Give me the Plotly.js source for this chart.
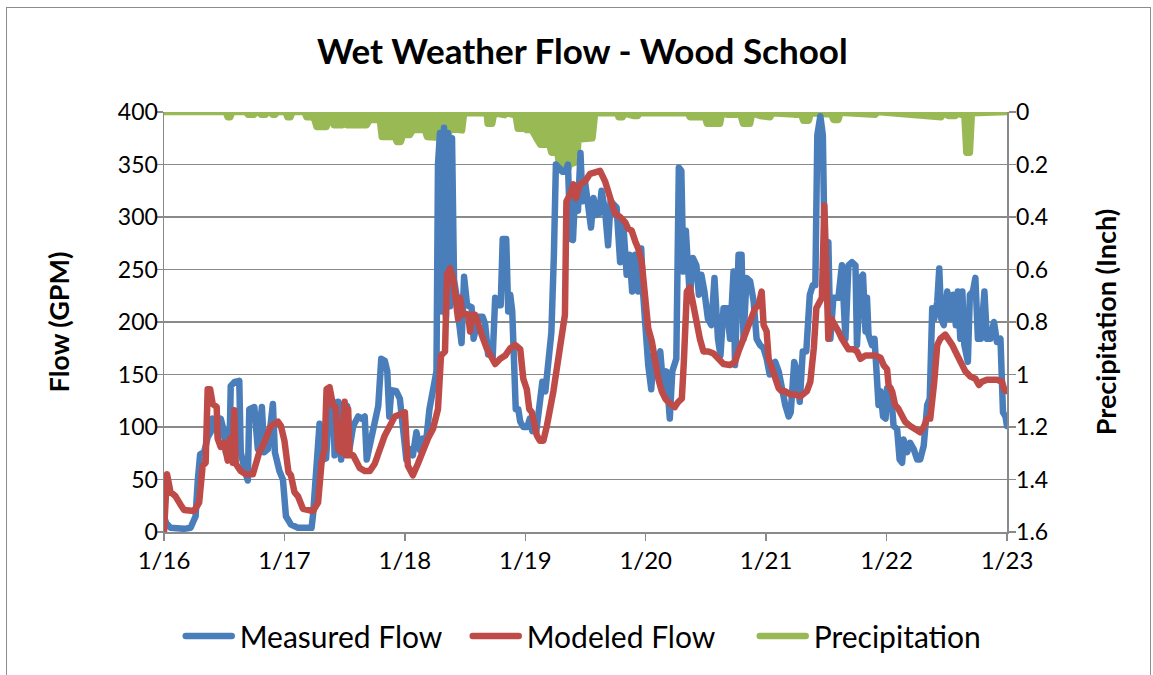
<!DOCTYPE html>
<html><head><meta charset="utf-8">
<script src="https://cdn.plot.ly/plotly-3.0.1.min.js"></script>
<style>
html,body{margin:0;padding:0;background:#fff;}
#chart{position:absolute;left:0;top:0;width:1153px;height:675px;}
#frame{position:absolute;left:6px;top:7px;width:1143px;height:700px;border:1.5px solid #8c8c8c;pointer-events:none;z-index:10;}
path.js-line{stroke-linejoin:round !important;stroke-linecap:round !important;}
.legendlines path{stroke-linecap:round !important;}
</style></head>
<body><div id="chart"></div><div id="frame"></div>
<script>
// Time axis in hours after 1/16 00:00
const tickHours = [0,24,48,72,96,120,144,168];
const tickLabels = ["1/16","1/17","1/18","1/19","1/20","1/21","1/22","1/23"];

const measuredHours = [0,0.5,1.3,2.5,4,5.3,5.7,6.3,6.7,7.2,8,8.7,9.3,9.7,10.3,10.8,11.3,12,12.3,13,13.3,14.1,15,15.3,15.9,16.7,17,18,18.7,19.5,20,20.7,21.7,22.1,23,23.7,24.3,25.3,26.7,
27.5,29.4,29.7,30.4,31,31.6,32.3,33,33.7,34,34.7,35.3,35.8,36.5,37,37.7,38.7,39.3,40,40.4,41,42,42.7,43.3,44,44.5,44.9,45.3,46.3,47,47.6,48.3,49,49.6,50.3,51,51.6,52.3,52.9,53.6,54.3,54.6,55,
55.4,55.8,56.2,56.6,57,57.4,57.8,58.3,58.8,59.3,59.8,60.4,61.3,61.7,62.3,62.8,63.5,64,64.6,65.1,65.5,66,66.6,67.1,67.5,68.2,68.6,69,69.4,69.7,70.1,70.6,71,71.6,72.4,72.9,73.4,74.2,74.8,75.4,76,76.6,77.2,77.7,78.1,78.7,79.4,80,80.5,81,81.5,82,82.5,83,83.4,83.9,84.6,85.1,85.6,86.2,86.7,87.2,87.9,88.5,89,89.6,90.2,90.9,91.5,92.2,92.8,93.3,93.9,94.5,95.1,95.5,95.9,96.5,97.1,97.6,98.3,98.9,99.5,100.1,100.8,101.3,102.1,102.6,103.1,103.5,104,104.8,105.4,106.1,106.6,107.1,107.7,108.4,109.1,109.7,110.4,110.9,
111.5,112.2,112.8,113.5,113.8,114.5,115.1,115.5,116.1,116.8,117.5,118.1,118.8,119.5,120.1,120.7,121.1,121.8,122.5,123.1,123.8,124.5,124.9,125.6,126.1,126.7,127.3,128,128.7,129.3,129.8,130.2,130.8,131.3,131.8,132.4,132.8,133.4,134.4,135.1,135.8,136.4,137.1,137.8,138.1,138.8,
139.3,139.8,140.1,140.4,141.1,141.6,142,142.4,142.8,143.3,143.8,144.1,144.8,145.4,146.1,146.6,147.1,147.4,148.1,148.7,149.4,150.1,150.7,151.4,152.1,152.6,153.1,153.5,154.1,154.5,154.9,155.4,156.1,156.7,157.3,157.8,158.2,158.7,159.1,159.5,160.2,160.6,161.2,161.7,162.2,162.8,163.5,164,164.7,165.4,166,166.7,167.2,167.7,168];
const measuredGPM = [14,8,4,3,3,4,9,15,47,74,76,90,95,108,106,90,108,95,76,69,139,143,144,76,63,49,117,119,79,119,76,79,122,76,58,50,15,7,4,
4,4,16,70,103,69,70,124,124,73,124,69,122,120,80,101,110,108,110,69,82,101,120,165,163,153,110,135,134,127,101,69,79,73,95,78,89,89,117,136,153,350,380,
210,385,205,380,215,375,240,225,200,180,243,216,214,184,197,205,205,198,169,178,166,223,216,216,279,279,210,226,210,178,117,117,105,100,100,108,96,96,120,143,134,172,190,264,350,347,343,343,350,279,278,329,306,361,315,334,299,290,318,302,303,325,306,273,315,312,309,257,296,245,264,229,264,229,270,226,188,159,136,169,162,172,137,153,108,153,165,347,344,248,287,223,261,254,226,245,229,203,197,242,184,168,
213,213,184,248,159,264,264,184,242,239,220,184,178,175,165,150,159,162,153,134,121,110,114,162,153,124,172,172,226,235,235,378,396,378,223,276,184,223,223,254,184,254,257,254,178,242,
245,191,223,188,178,184,143,121,134,110,108,137,137,101,98,69,66,88,76,85,79,69,69,82,121,127,213,203,219,251,203,197,229,203,226,197,229,184,229,178,162,226,229,242,184,184,229,184,184,200,181,184,114,110,101];

const modeledHours = [0,0.6,1.3,2.3,3.3,4,6,7,7.7,8.3,8.7,9.2,9.7,10.5,10.7,11.3,12,12.7,13.2,13.7,14,14.3,15.3,16.3,17.7,18.3,19,19.7,20.3,21.3,22.7,23.3,24,24.8,25.3,26,26.7,27.7,29.7,30.7,
31.4,32,32.4,33,33.7,34.2,34.7,35.3,36,36.3,36.7,37,37.7,38.3,39,40,41,42,43,44,45,46,47,48,48.6,49.6,50.6,51.6,52.6,53.6,54.6,55.2,56,56.4,57,57.6,58.3,58.6,59,59.5,
60,60.6,61,61.3,62,62.6,63.3,64.3,65.3,66,67,68,69,70,71,71.6,72.3,72.8,73.3,73.7,74.3,74.9,75.6,76.3,76.9,77.6,78.2,78.9,79.4,79.9,80.2,80.9,81.6,82.1,82.9,83.9,84.9,85.9,86.9,87.9,
88.6,89.2,89.9,90.9,91.9,92.5,93.2,93.9,94.5,95.2,95.9,96.5,97.2,97.9,98.5,99.2,99.9,100.9,101.8,102.5,103.2,103.6,104.2,104.8,105.5,106.2,106.8,107.5,108.5,109.5,
110.5,111.5,112.8,113.8,114.5,115.1,115.8,116.5,117.1,117.8,118.5,119.1,119.5,120.1,120.5,121.1,121.8,122.5,123.1,123.8,124.8,125.8,126.8,127.5,128.1,128.8,129.5,130,130.6,131.1,
131.6,132,132.4,133,133.8,134.4,135.1,135.8,136.4,137.4,138.1,138.8,139.8,140.8,141.8,142.8,143.4,144.1,144.4,145.1,145.7,146.4,147.1,147.7,148.7,149.7,150.7,151.4,152.1,152.7,
153.1,153.5,154.1,154.7,155.7,156.4,157.1,157.7,158.4,159.1,159.7,160.7,161.7,162.4,163,164,165,166,167,167.5,168.2];
const modeledGPM = [0,55,38,34,26,21,20,28,63,66,136,136,122,119,89,81,85,68,89,66,116,65,58,55,55,66,76,82,89,101,105,101,87,57,54,38,34,22,20,28,
66,79,136,138,120,119,79,76,124,73,117,73,73,66,61,58,58,65,79,92,101,110,112,114,63,54,65,79,89,98,117,168,172,245,251,242,219,203,223,207,
208,207,191,207,207,200,188,175,165,160,165,168,175,178,174,146,136,117,114,101,92,87,87,101,114,134,153,178,197,207,315,321,331,318,331,334,341,342,344,334,
321,312,303,300,295,289,287,277,270,257,229,194,182,159,146,134,127,122,119,124,127,162,229,233,216,194,184,172,172,170,
165,160,159,162,172,178,188,197,203,213,216,229,197,191,165,156,150,137,134,134,131,131,129,131,134,143,175,213,220,223,
311,216,184,203,197,191,184,178,174,174,172,165,168,168,168,166,159,155,140,134,121,117,110,105,101,98,95,100,108,108,
137,143,178,184,188,184,178,172,165,159,153,148,146,140,143,145,145,145,143,135,134];

const precipHours = [0,12.3,12.7,13.2,13.6,16.4,16.7,18,18.4,19,19.3,20.3,20.7,21.3,21.6,22.2,22.6,24.2,24.6,25.2,25.6,28,28.4,29.6,30,30.4,32.4,32.6,33.6,33.8,
35.6,36,36.4,40.4,41,43,43.4,46,46.4,47.2,47.6,49,49.6,52,52.4,55,55.6,56.6,57,58,58.6,59.4,59.8,64.3,64.5,65.4,65.8,67.3,67.9,68.3,
69,69.5,70,70.5,71.6,72,72.3,72.7,73.2,73.6,74.2,75,76.8,77.2,78.4,78.8,80.4,80.9,82.3,82.6,85.4,85.9,90.3,90.6,91.4,91.7,93.5,94.4,94.8,104.4,
104.8,107.8,108.2,110.8,111.2,112.2,114.2,114.8,115.4,116.8,117.2,118.8,120.8,121.2,125.6,127,127.4,128.5,128.9,131.6,
133,133.4,134.4,134.8,140.8,141.8,142.2,153.5,153.9,154.9,155.3,156.3,157.7,158.1,158.7,159.5,159.9,160.6,161,168];
const precipInches = [0,0,0.02,0.02,0,0,0.01,0.01,0,0,0.01,0.01,0,0,0.01,0.01,0,0,0.02,0.02,0,0,0.02,0.02,0.03,0.057,0.057,0.038,0.038,0.05,
0.05,0.025,0.05,0.05,0.03,0.03,0.095,0.095,0.114,0.114,0.088,0.088,0.069,0.069,0.095,0.095,0.1,0.1,0.065,0.065,0.07,0.07,0.005,0.005,0.045,0.045,0.005,0.012,0.012,0.005,
0.01,0.01,0.005,0.064,0.064,0.01,0.069,0.069,0.01,0.08,0.1,0.125,0.125,0.155,0.155,0.215,0.225,0.2,0.19,0.105,0.1,0.005,0.005,0.02,0.02,0.005,0.015,0.015,0.005,0.005,
0.02,0.02,0.045,0.045,0.005,0.01,0.01,0.005,0.045,0.045,0.005,0.015,0.02,0.005,0.01,0.01,0.033,0.033,0.005,0.01,
0.01,0.03,0.03,0.003,0.01,0.01,0,0.015,0.02,0.02,0.005,0.015,0.015,0.005,0.01,0.01,0.155,0.155,0.005,0];

const FONT = 'Lato, "Open Sans", sans-serif';
const GRID = '#8a8a8a';
const GREEN = '#98b954';

const traces = [
  {x: measuredHours, y: measuredGPM, name: 'Measured Flow', type: 'scatter', mode: 'lines',
   yaxis: 'y2', line: {color: '#4a7ebb', width: 6.5}},
  {x: modeledHours, y: modeledGPM, name: 'Modeled Flow', type: 'scatter', mode: 'lines',
   yaxis: 'y2', line: {color: '#be4b48', width: 6.5}},
  {x: precipHours, y: precipInches, name: 'Precipitation', type: 'scatter', mode: 'lines',
   yaxis: 'y', fill: 'tozeroy', fillcolor: GREEN, line: {color: GREEN, width: 6.5}}
];

const layout = {
  width: 1153, height: 675,
  margin: {l: 164, r: 146, t: 112, b: 143, pad: 0},
  paper_bgcolor: '#ffffff', plot_bgcolor: '#ffffff',
  font: {family: FONT, color: '#000000', size: 22},
  title: {text: '<b>Wet Weather Flow - Wood School</b>', font: {family: FONT, size: 35, color: '#000'},
          xref: 'container', x: 0.505, xanchor: 'center', yref: 'container', y: 0.923, yanchor: 'middle'},
  showlegend: true,
  legend: {orientation: 'h', xref: 'paper', x: 1.04, xanchor: 'right', yref: 'paper', y: -0.2476, yanchor: 'middle',
           font: {family: FONT, size: 30, color: '#000'}, itemwidth: 50, entrywidth: 222, entrywidthmode: 'pixels',
           traceorder: 'normal', bgcolor: 'rgba(0,0,0,0)'},
  xaxis: {range: [0, 168], tickvals: tickHours, ticktext: tickLabels, showgrid: false, zeroline: false,
          showline: true, linecolor: GRID, linewidth: 1.5, ticks: 'outside', ticklen: 7, tickcolor: GRID, tickwidth: 1.5,
          tickfont: {family: FONT, size: 24, color: '#000'}},
  yaxis: {side: 'right', range: [1.6, 0], dtick: 0.2, tick0: 0, showgrid: false, zeroline: false,
          showline: true, linecolor: GRID, linewidth: 1.5, ticks: 'outside', ticklen: 7, tickcolor: GRID, tickwidth: 1.5,
          ticklabelstandoff: -4,
          tickfont: {family: FONT, size: 23, color: '#000'},
          title: {text: '<b>Precipitation (Inch)</b>', font: {family: FONT, size: 27, color: '#000'}, standoff: 50}},
  yaxis2: {side: 'left', overlaying: 'y', range: [0, 400], dtick: 50, tick0: 0, showgrid: true, gridcolor: GRID, gridwidth: 1.5,
          zeroline: false, showline: true, linecolor: GRID, linewidth: 1.5, ticks: 'outside', ticklen: 7, tickcolor: GRID, tickwidth: 1.5,
          ticklabelstandoff: -7,
          tickfont: {family: FONT, size: 23, color: '#000'},
          title: {text: '<b>Flow (GPM)</b>', font: {family: FONT, size: 27, color: '#000'}, standoff: 40}}
};

Plotly.newPlot('chart', traces, layout, {displayModeBar: false, staticPlot: true}).then(function (gd) {
  // legend styling: longer line samples, no fill swatch (as in the original chart)
  gd.querySelectorAll('.legendlines path').forEach(function (p) { p.setAttribute('d', 'M6,0h46'); });
  gd.querySelectorAll('.legendfill path').forEach(function (p) { p.setAttribute('d', ''); });
});
</script></body></html>
